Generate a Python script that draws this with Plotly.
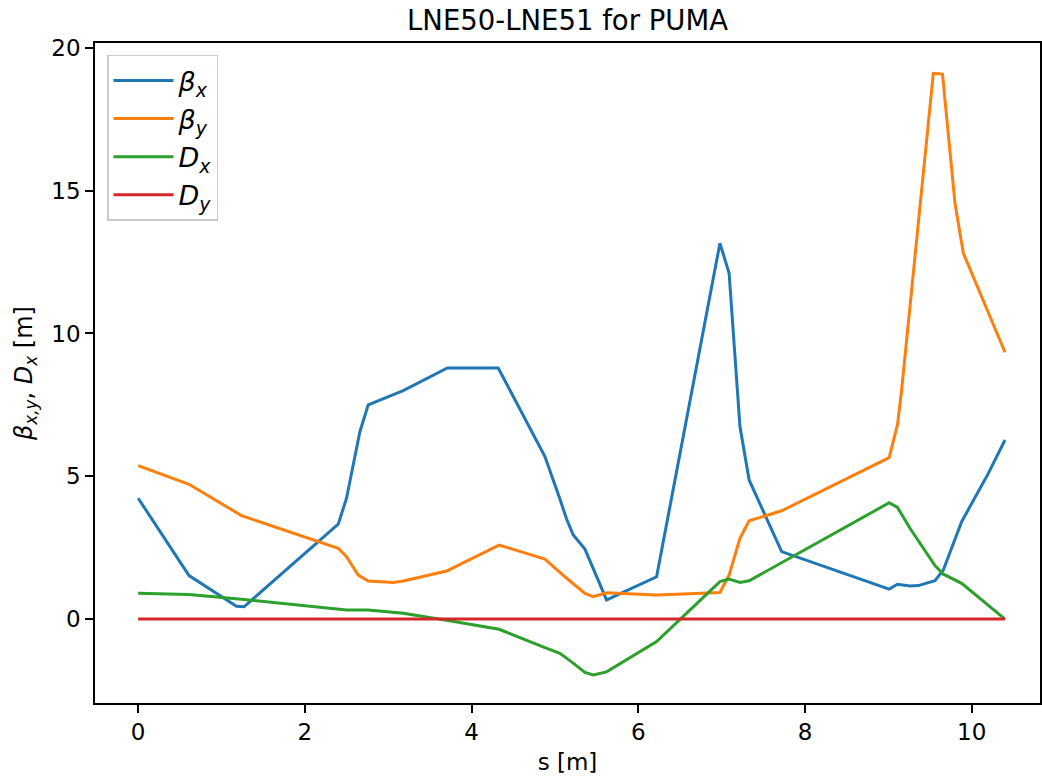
import plotly.graph_objects as go

# beta_x
s_bx = [0, 0.61, 1.18, 1.27, 2.40, 2.50, 2.66, 2.76, 3.18, 3.71, 4.32, 4.88, 5.06, 5.14,
        5.22, 5.36, 5.62, 6.22, 6.98, 7.09, 7.22, 7.33, 7.72, 9.01, 9.11, 9.26, 9.36,
        9.56, 9.66, 9.88, 10.20, 10.40]
beta_x = [4.23, 1.52, 0.45, 0.43, 3.32, 4.23, 6.56, 7.50, 8.00, 8.79, 8.79, 5.69, 4.20, 3.50,
          2.94, 2.45, 0.67, 1.48, 13.16, 12.11, 6.74, 4.87, 2.36, 1.05, 1.22, 1.16, 1.17,
          1.34, 1.72, 3.41, 5.10, 6.27]

# beta_y
s_by = [0, 0.61, 1.24, 2.40, 2.50, 2.64, 2.76, 3.06, 3.18, 3.70, 4.33, 4.88, 5.12, 5.36,
        5.46, 5.62, 6.22, 6.98, 7.09, 7.22, 7.33, 7.72, 9.01, 9.11, 9.16, 9.54, 9.65,
        9.80, 9.90, 10.40]
beta_y = [5.37, 4.72, 3.62, 2.48, 2.18, 1.54, 1.33, 1.28, 1.33, 1.68, 2.59, 2.10, 1.48, 0.90,
          0.78, 0.92, 0.84, 0.93, 1.54, 2.83, 3.44, 3.79, 5.65, 6.80, 8.02, 19.11, 19.08,
          14.56, 12.81, 9.34]

# D_x
s_dx = [0, 0.61, 1.24, 2.40, 2.50, 2.76, 3.18, 3.70, 4.33, 4.88, 5.06, 5.20, 5.36, 5.46,
        5.62, 6.22, 6.98, 7.09, 7.22, 7.33, 9.01, 9.11, 9.26, 9.56, 9.66, 9.88, 10.40]
d_x = [0.90, 0.86, 0.69, 0.34, 0.32, 0.32, 0.20, -0.04, -0.36, -1.00, -1.20, -1.50, -1.87, -1.96,
       -1.85, -0.79, 1.31, 1.40, 1.28, 1.34, 4.07, 3.91, 3.18, 1.87, 1.57, 1.25, 0.0]

# D_y
s_dy = [0, 10.40]
d_y = [0.0, 0.0]

x_ticks = [0, 2, 4, 6, 8, 10]
y_ticks = [0, 5, 10, 15, 20]

FONT = "DejaVu Sans"
fig = go.Figure()
series = [
    (s_bx, beta_x, "<i>β<sub>x</sub></i>", "#1f77b4"),
    (s_by, beta_y, "<i>β<sub>y</sub></i>", "#ff7f0e"),
    (s_dx, d_x, "<i>D<sub>x</sub></i>", "#2ca02c"),
    (s_dy, d_y, "<i>D<sub>y</sub></i>", "#d62728"),
]
for xs, ys, name, col in series:
    fig.add_trace(go.Scatter(x=xs, y=ys, mode="lines", name=name,
                             line=dict(color=col, width=3)))

axis_common = dict(showline=True, linecolor="black", linewidth=1.5, mirror=True,
                   ticks="outside", ticklen=8, tickwidth=1.5, tickcolor="black",
                   showgrid=False, zeroline=False,
                   tickfont=dict(family=FONT, size=23, color="black"))

fig.update_layout(
    width=1042, height=778,
    margin=dict(l=95, r=0, t=43, b=75),
    paper_bgcolor="white", plot_bgcolor="white",
    font=dict(family=FONT, size=23, color="black"),
    title=dict(text="LNE50-LNE51 for PUMA", x=0.5, xref="paper", y=0.974, yref="container",
               yanchor="middle", xanchor="center", font=dict(family=FONT, size=27.5, color="black")),
    xaxis=dict(range=[-0.518, 10.82], tickvals=x_ticks,
               title=dict(text="s [m]", standoff=10, font=dict(family=FONT, size=23)),
               **axis_common),
    yaxis=dict(range=[-2.94, 20.17], tickvals=y_ticks,
               title=dict(text="<i>β</i><sub><i>x,y</i></sub>, <i>D</i><sub><i>x</i></sub> [m]",
                          standoff=12, font=dict(family=FONT, size=24)),
               **axis_common),
    legend=dict(x=0.0127, y=0.982, xanchor="left", yanchor="top",
                bgcolor="rgba(255,255,255,0.8)", bordercolor="#cccccc", borderwidth=1.5,
                font=dict(family=FONT, size=27), tracegroupgap=0, itemwidth=60),
    showlegend=True,
)

fig.write_html("out.html")
